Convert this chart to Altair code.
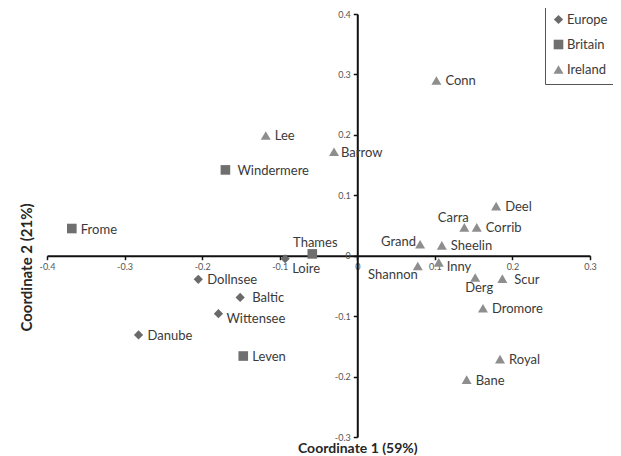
import altair as alt
import pandas as pd

# ---- data ----
names = ["Danube", "Dollnsee", "Baltic", "Wittensee", "Loire",
         "Frome", "Windermere", "Thames", "Leven",
         "Lee", "Barrow", "Conn", "Deel", "Carra", "Corrib", "Grand",
         "Sheelin", "Shannon", "Inny", "Derg", "Scur", "Dromore", "Royal", "Bane"]
regions = ["Europe"] * 5 + ["Britain"] * 4 + ["Ireland"] * 15
coord1 = [-0.282, -0.205, -0.151, -0.179, -0.093,
          -0.368, -0.170, -0.058, -0.147,
          -0.118, -0.030, 0.102, 0.179, 0.138, 0.154, 0.081,
          0.109, 0.078, 0.105, 0.152, 0.187, 0.162, 0.184, 0.141]
coord2 = [-0.131, -0.039, -0.069, -0.096, -0.005,
          0.045, 0.142, 0.003, -0.166,
          0.199, 0.172, 0.290, 0.082, 0.047, 0.047, 0.019,
          0.017, -0.017, -0.011, -0.036, -0.038, -0.087, -0.171, -0.205]

region_order = ["Europe", "Britain", "Ireland"]
x_ticks = [-0.4, -0.3, -0.2, -0.1, 0.0, 0.1, 0.2, 0.3]
y_ticks = [-0.3, -0.2, -0.1, 0.0, 0.1, 0.2, 0.3, 0.4]

df = pd.DataFrame({"name": names, "region": regions, "c1": coord1, "c2": coord2})

# ---- layout ----
W, H = 543, 423
XDOM, YDOM = [-0.4, 0.3], [-0.3, 0.4]
x_zero = W * (0 - XDOM[0]) / (XDOM[1] - XDOM[0])
y_zero = H * (YDOM[1] - 0) / (YDOM[1] - YDOM[0])
FONT = "Lato"
TXT = "#3a3a3a"

label_expr = "datum.value == 0 ? '0' : replace(format(datum.value, '.1f'), '\u2212', '-')"

x_axis = alt.Axis(values=x_ticks, orient="bottom", offset=-(H - y_zero), grid=False,
                  domainColor="#111111", domainWidth=2, tickColor="#111111", tickSize=4,
                  tickWidth=1.5, labelFontSize=9, labelColor="#555555", labelFont=FONT,
                  labelPadding=3, labelExpr=label_expr, labelFlush=False,
                  title="Coordinate 1 (59%)", titleFont=FONT, titleFontSize=14,
                  titleFontWeight="bold", titleColor="#262626",
                  titleX=x_zero, titleY=(H - y_zero) + 11,
                  titleAlign="center", titleBaseline="middle")
y_axis = alt.Axis(values=y_ticks, orient="left", offset=-x_zero, grid=False,
                  domainColor="#111111", domainWidth=2, tickColor="#111111", tickSize=4,
                  tickWidth=1.5, labelFontSize=9, labelColor="#555555", labelFont=FONT,
                  labelPadding=3, labelExpr=label_expr, labelFlush=False,
                  title="Coordinate 2  (21%)", titleFont=FONT, titleFontSize=15,
                  titleFontWeight="bold", titleColor="#262626",
                  titleX=-(x_zero + 21), titleY=253, titleAngle=270,
                  titleAlign="center", titleBaseline="middle")

xs = alt.Scale(domain=XDOM, nice=False, zero=False)
ys = alt.Scale(domain=YDOM, nice=False, zero=False)

legend = alt.Legend(orient="none", legendX=498, legendY=-8, title=None,
                    strokeColor="#555555", fillColor="white",
                    padding=7, rowPadding=11, labelFontSize=13,
                    labelFont=FONT, labelColor=TXT, symbolSize=70,
                    labelOffset=2)

base = alt.Chart(df)

points = base.mark_point(filled=True, opacity=1).encode(
    x=alt.X("c1:Q", scale=xs, axis=x_axis),
    y=alt.Y("c2:Q", scale=ys, axis=y_axis),
    shape=alt.Shape("region:N", scale=alt.Scale(domain=region_order,
                    range=["diamond", "square", "triangle-up"]), legend=legend),
    color=alt.Color("region:N", scale=alt.Scale(domain=region_order,
                    range=["#6a6a6a", "#6f6f6f", "#8e8e8e"]), legend=legend),
    size=alt.Size("region:N", scale=alt.Scale(domain=region_order, range=[85, 100, 125]),
                  legend=None),
)

# label placement groups (offsets in px from marker centre)
placements = [
    (["Barrow"], 7, 1, "left"),
    (["Baltic", "Scur", "Windermere"], 12, 1, "left"),
    (["Inny", "Wittensee"], 8, 5, "left"),
    (["Loire"], 7, 10, "left"),
    (["Thames"], 3, -11, "center"),
    (["Carra"], -11, -9, "center"),
    (["Grand"], -4, -2, "right"),
    (["Shannon"], 0, 9, "right"),
    (["Derg"], 4, 11, "center"),
]
special = [n for grp in placements for n in grp[0]]
default_names = [n for n in names if n not in special]
placements.insert(0, (default_names, 9, 1, "left"))

layers = [points]
for grp, dx, dy, align in placements:
    layers.append(
        base.transform_filter(alt.FieldOneOfPredicate(field="name", oneOf=grp))
        .mark_text(dx=dx, dy=dy, align=align, baseline="middle", font=FONT,
                   fontSize=13, color=TXT)
        .encode(x=alt.X("c1:Q", scale=xs), y=alt.Y("c2:Q", scale=ys), text="name:N")
    )

chart = alt.layer(*layers).properties(
    width=W, height=H,
    autosize=alt.AutoSizeParams(type="none"),
    padding={"left": 39, "top": 6, "right": 23, "bottom": 20},
).configure_view(strokeWidth=0)

chart.save("out.html", embed_options={"renderer": "svg", "actions": False})
